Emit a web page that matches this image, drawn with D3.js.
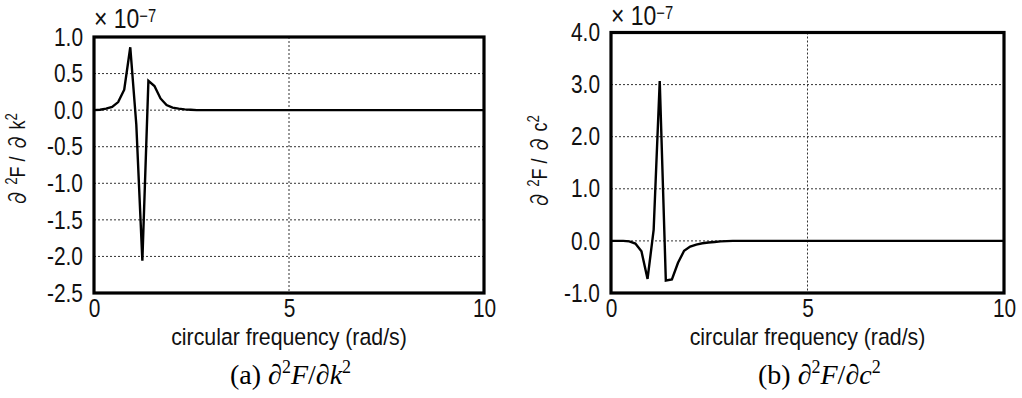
<!DOCTYPE html>
<html>
<head>
<meta charset="utf-8">
<script src="https://cdn.jsdelivr.net/npm/d3@7"></script>
<style>
  body { margin: 0; background: #fff; }
  svg { display: block; }
</style>
</head>
<body>
<svg id="fig" width="1022" height="398"></svg>
<script>
// Circular frequency samples (rad/s)
const freq = [0, 0.155, 0.31, 0.465, 0.62, 0.775, 0.93, 1.085, 1.24, 1.395, 1.55,
              1.705, 1.86, 2.015, 2.17, 2.325, 2.48, 2.635, 2.79, 2.945, 3.1, 10];
// Second derivative w.r.t. stiffness k (units of 1e-7)
const d2Fdk2 = [0, 0.005, 0.02, 0.045, 0.11, 0.28, 0.86, -0.2, -2.06, 0.40, 0.33,
                0.16, 0.07, 0.035, 0.02, 0.01, 0.005, 0, 0, 0, 0, 0];
// Second derivative w.r.t. damping c (units of 1e-7)
const d2Fdc2 = [0, 0, 0, -0.01, -0.05, -0.2, -0.73, 0.21, 3.07, -0.76, -0.74,
                -0.42, -0.19, -0.11, -0.07, -0.045, -0.03, -0.02, -0.01, -0.005, 0, 0];

const xTicks = [0, 5, 10];
const yTicksK = [1.0, 0.5, 0.0, -0.5, -1.0, -1.5, -2.0, -2.5];
const yTicksC = [4.0, 3.0, 2.0, 1.0, 0.0, -1.0];
const xTitle = "circular frequency (rad/s)";

// Pick a condensed sans face; fall back to a horizontally squeezed regular face.
const ctx = document.createElement("canvas").getContext("2d");
function probe(font) { ctx.font = font; return ctx.measureText("circular frequency 0123").width; }
const hasNarrow = probe('40px "Liberation Sans Narrow", monospace') !== probe("40px monospace");
const SANS = hasNarrow ? '"Liberation Sans Narrow", "Arial Narrow", sans-serif'
                       : '"Liberation Sans", Arial, sans-serif';
const SQUEEZE = hasNarrow ? 1 : 0.82;
const CJK = '"Noto Sans CJK JP", "Noto Sans CJK SC", sans-serif';
const SERIF = '"Liberation Serif", "Times New Roman", serif';

function squeeze(sel, k = SQUEEZE) {
  if (k === 1) return;
  sel.each(function () {
    const t = d3.select(this);
    const x = +t.attr("x") || 0, y = +t.attr("y") || 0;
    const tr = t.attr("transform") || "";
    t.attr("x", 0).attr("y", 0)
     .attr("transform", `${tr} translate(${x},${y}) scale(${k},1)`);
  });
}

const svg = d3.select("#fig");

function panel(o) {
  const g = svg.append("g");
  const x = d3.scaleLinear().domain([0, 10]).range([o.left, o.right]);
  const y = d3.scaleLinear().domain(o.yDomain).range([o.bottom, o.top]);

  // dotted grid
  g.selectAll("line.hgrid")
    .data(o.yTicks.filter(v => v > o.yDomain[0] && v < o.yDomain[1]))
    .join("line").attr("class", "hgrid")
    .attr("x1", o.left).attr("x2", o.right)
    .attr("y1", d => y(d)).attr("y2", d => y(d))
    .attr("stroke", "#333").attr("stroke-width", 1).attr("stroke-dasharray", "2,2");
  g.selectAll("line.vgrid")
    .data(xTicks.filter(v => v > 0 && v < 10))
    .join("line").attr("class", "vgrid")
    .attr("x1", d => x(d)).attr("x2", d => x(d))
    .attr("y1", o.top).attr("y2", o.bottom)
    .attr("stroke", "#333").attr("stroke-width", 1).attr("stroke-dasharray", "2,2");

  // curve
  const line = d3.line().x((d, i) => x(freq[i])).y(d => y(d));
  g.append("path").datum(o.values)
    .attr("d", line).attr("fill", "none")
    .attr("stroke", "#000").attr("stroke-width", 2.4).attr("stroke-linejoin", "miter");

  // frame
  g.append("rect")
    .attr("x", o.left).attr("y", o.top)
    .attr("width", o.right - o.left).attr("height", o.bottom - o.top)
    .attr("fill", "none").attr("stroke", "#000").attr("stroke-width", 3.2);

  // axes
  const xa = g.append("g").attr("transform", `translate(0,${o.bottom})`)
    .call(d3.axisBottom(x).tickValues(xTicks).tickSize(0).tickPadding(6).tickFormat(d3.format("d")));
  const ya = g.append("g").attr("transform", `translate(${o.left},0)`)
    .call(d3.axisLeft(y).tickValues(o.yTicks).tickSize(0).tickPadding(11).tickFormat(d3.format(".1f")));
  [xa, ya].forEach(a => {
    a.select(".domain").remove();
    a.attr("font-family", SANS).attr("font-size", 25.5);
    a.selectAll("text").attr("fill", "#111");
    squeeze(a.selectAll("text"));
  });
  ya.selectAll("text").text(d => d3.format(".1f")(d).replace("−", "-"));

  // exponent note
  const ex = g.append("text").attr("x", o.left).attr("y", o.expY)
    .attr("font-family", SANS).attr("font-size", 28).attr("fill", "#111");
  ex.append("tspan").text("× 10");
  ex.append("tspan").attr("font-size", 18).attr("dy", -6).text("−7");
  squeeze(ex);

  // x title
  const xt = g.append("text").attr("x", (o.left + o.right) / 2).attr("y", 345)
    .attr("text-anchor", "middle").attr("font-family", SANS).attr("font-size", 24.5)
    .attr("fill", "#111").text(xTitle);
  squeeze(xt, SQUEEZE === 1 ? 1.06 : 0.87);

  // y title
  const yt = g.append("text")
    .attr("transform", `translate(${o.labelX},${o.labelY}) rotate(-90)`)
    .attr("text-anchor", "middle").attr("font-family", SANS).attr("font-size", 22)
    .attr("fill", "#111");
  yt.append("tspan").attr("font-family", CJK).text("∂ ");
  yt.append("tspan").attr("font-size", 16).attr("dy", -8).text("2");
  yt.append("tspan").attr("dy", 8).text("F / ");
  yt.append("tspan").attr("font-family", CJK).text("∂ ");
  yt.append("tspan").text(o.param);
  yt.append("tspan").attr("font-size", 16).attr("dy", -8).text("2");
  squeeze(yt);

  // caption
  const cap = g.append("text").attr("x", o.capX).attr("y", 384)
    .attr("font-family", SERIF).attr("font-size", 28).attr("fill", "#000");
  cap.append("tspan").text(o.tag + " ");
  cap.append("tspan").attr("font-style", "italic").text("∂");
  cap.append("tspan").attr("font-size", 18).attr("dy", -11).text("2");
  cap.append("tspan").attr("font-style", "italic").attr("dy", 11).text("F");
  cap.append("tspan").text("/");
  cap.append("tspan").attr("font-style", "italic").text("∂" + o.param);
  cap.append("tspan").attr("font-size", 18).attr("dy", -11).text("2");
}

panel({
  left: 94, right: 484, top: 37, bottom: 293, expY: 28,
  yDomain: [-2.5, 1.0], yTicks: yTicksK, values: d2Fdk2,
  labelX: 25, labelY: 160, param: "k", tag: "(a)", capX: 230
});
panel({
  left: 611, right: 1004, top: 32.5, bottom: 293, expY: 25,
  yDomain: [-1.0, 4.0], yTicks: yTicksC, values: d2Fdc2,
  labelX: 547, labelY: 162, param: "c", tag: "(b)", capX: 758
});
</script>
</body>
</html>
